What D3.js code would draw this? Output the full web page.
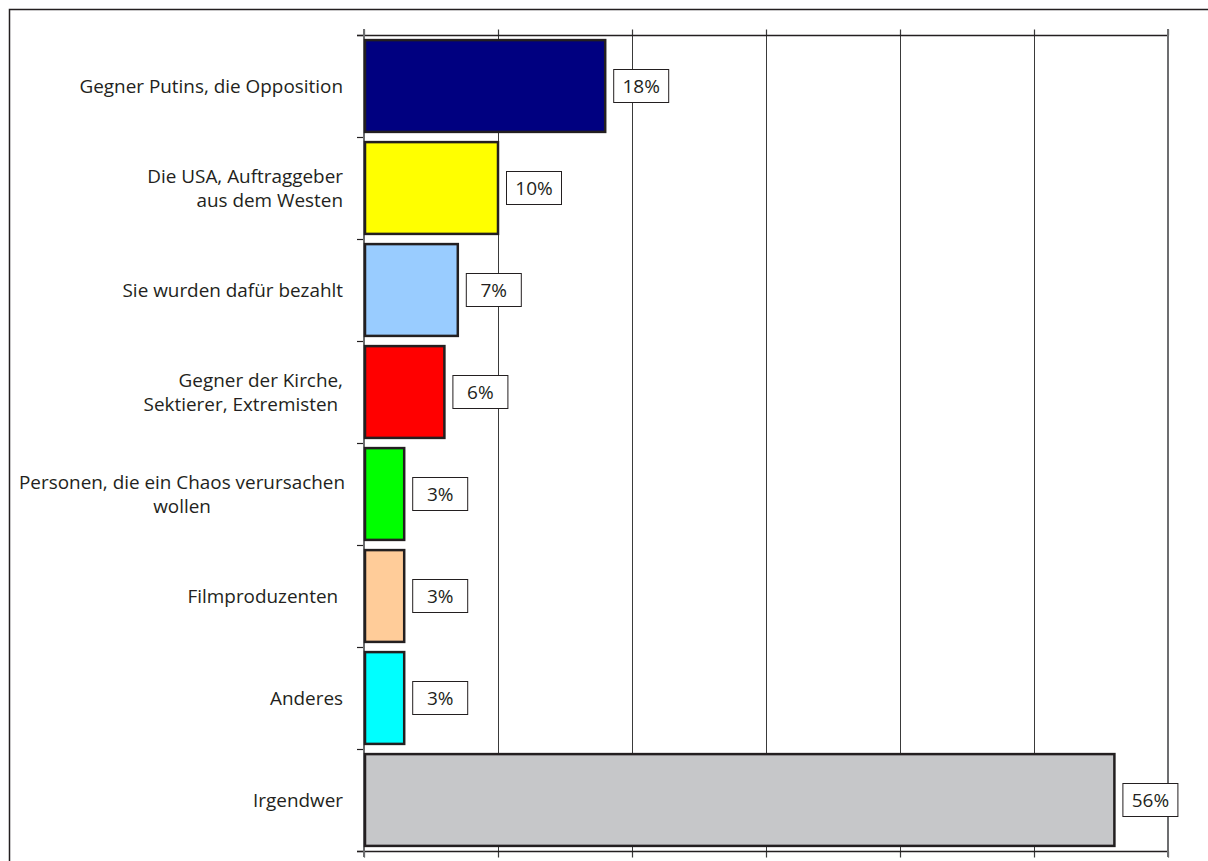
<!DOCTYPE html>
<html>
<head>
<meta charset="utf-8">
<script src="https://cdn.jsdelivr.net/npm/d3@7"></script>
<style>
  html, body { margin: 0; padding: 0; background: #fff; }
  svg { display: block; }
  text { font-family: "Open Sans", "Noto Sans", sans-serif; fill: #231f20; }
</style>
</head>
<body>
<svg id="chart" width="1208" height="861"></svg>
<script>
// Categories (each line of a wrapped label is a separate entry)
const categories = [
  ["Gegner Putins, die Opposition"],
  ["Die USA, Auftraggeber", "aus dem Westen"],
  ["Sie wurden dafür bezahlt"],
  ["Gegner der Kirche,", "Sektierer, Extremisten "],
  ["Personen, die ein Chaos verursachen", "wollen"],
  ["Filmproduzenten "],
  ["Anderes"],
  ["Irgendwer"]
];
const values = [18, 10, 7, 6, 3, 3, 3, 56];
const barColors = ["#000080", "#ffff00", "#99ccff", "#ff0000", "#00ff00", "#ffcc99", "#00ffff", "#c6c7c9"];
const xTicks = [0, 10, 20, 30, 40, 50, 60];
// Labels whose lines are centred on each other rather than right-aligned
const centeredLabels = [4];

const svg = d3.select("#chart");
const margin = { left: 364, right: 40, top: 35, bottom: 10 };
const W = 1208, H = 861;
const plotRight = W - margin.right;
const plotBottom = H - margin.bottom;

const keys = categories.map((c, i) => i);
const x = d3.scaleLinear().domain([0, 60]).range([margin.left, plotRight]);
const y = d3.scaleBand().domain(keys).range([margin.top, plotBottom])
  .paddingInner(0.1).paddingOuter(0.05);
const step = y.step();

// Outer frame
svg.append("rect")
  .attr("x", 9.5).attr("y", 9.5)
  .attr("width", 1300).attr("height", 1000)
  .attr("fill", "none").attr("stroke", "#231f20").attr("stroke-width", 1.5);

// Vertical gridlines
svg.append("g").selectAll("line").data(xTicks).join("line")
  .attr("x1", d => Math.round(x(d)) + 0.5).attr("x2", d => Math.round(x(d)) + 0.5)
  .attr("y1", margin.top).attr("y2", plotBottom)
  .attr("stroke", "#3a3a3a").attr("stroke-width", 1);

// Top and bottom axes (tick marks only)
const topAxis = svg.append("g").attr("transform", `translate(0,${margin.top + 0.5})`)
  .call(d3.axisTop(x).tickValues(xTicks).tickSize(6).tickFormat(""));
const bottomAxis = svg.append("g").attr("transform", `translate(0,${plotBottom + 0.5})`)
  .call(d3.axisBottom(x).tickValues(xTicks).tickSize(6).tickFormat(""));
[topAxis, bottomAxis].forEach(g => {
  g.select(".domain").remove();
  g.selectAll(".tick line").attr("stroke", "#3a3a3a").attr("stroke-width", 1.2);
});
// Horizontal border lines of the plot
[margin.top, plotBottom].forEach(yy => {
  svg.append("line")
    .attr("x1", margin.left - 7).attr("x2", plotRight + 1)
    .attr("y1", yy + 0.5).attr("y2", yy + 0.5)
    .attr("stroke", "#231f20").attr("stroke-width", 1.3);
});

// Left category axis: ticks at band boundaries
const boundaries = keys.map(k => y(k) - step * y.paddingInner() / 2).concat([plotBottom]);
svg.append("g").selectAll("line").data(boundaries).join("line")
  .attr("x1", margin.left - 7).attr("x2", margin.left)
  .attr("y1", d => Math.round(d) + 0.5).attr("y2", d => Math.round(d) + 0.5)
  .attr("stroke", "#231f20").attr("stroke-width", 1.2);
svg.append("line")
  .attr("x1", margin.left).attr("x2", margin.left)
  .attr("y1", margin.top - 6).attr("y2", plotBottom + 6)
  .attr("stroke", "#6d6e70").attr("stroke-width", 2);
svg.append("line")
  .attr("x1", plotRight).attr("x2", plotRight)
  .attr("y1", margin.top - 6).attr("y2", plotBottom + 6)
  .attr("stroke", "#6d6e70").attr("stroke-width", 2);

// Bars
svg.append("g").selectAll("rect").data(values).join("rect")
  .attr("x", x(0) + 1)
  .attr("y", (d, i) => y(i))
  .attr("width", d => x(d) - x(0) - 1)
  .attr("height", y.bandwidth())
  .attr("fill", (d, i) => barColors[i])
  .attr("stroke", "#231f20").attr("stroke-width", 2.5);

// Value labels in boxes
const valG = svg.append("g").selectAll("g").data(values).join("g")
  .attr("transform", (d, i) => `translate(${x(d) + 8},${y(i) + y.bandwidth() / 2})`);
valG.append("rect")
  .attr("x", 0.5).attr("y", -16.5).attr("width", 55).attr("height", 33)
  .attr("fill", "#fff").attr("stroke", "#231f20").attr("stroke-width", 1);
valG.append("text")
  .attr("x", 28).attr("y", 0).attr("dy", "0.35em")
  .attr("text-anchor", "middle").attr("font-size", 19)
  .text(d => d + "%");

// Category labels
const lineH = 24;
const catG = svg.append("g").selectAll("text").data(categories).join("text")
  .attr("font-size", 18.9)
  .style("white-space", "pre")
  .attr("y", (d, i) => y(i) + y.bandwidth() / 2);
catG.each(function(lines, i) {
  const t = d3.select(this);
  const cy = y(i) + y.bandwidth() / 2;
  const n = lines.length;
  lines.forEach((ln, j) => {
    t.append("tspan")
      .attr("x", 343)
      .attr("y", cy + (j - (n - 1) / 2) * lineH)
      .attr("dy", "0.35em")
      .attr("text-anchor", "end")
      .text(ln);
  });
  if (centeredLabels.includes(i)) {
    const spans = t.selectAll("tspan").nodes();
    const w0 = spans[0].getComputedTextLength();
    const mid = 345 - w0 / 2;
    spans.forEach(s => d3.select(s).attr("x", mid).attr("text-anchor", "middle"));
  }
});
</script>
</body>
</html>
